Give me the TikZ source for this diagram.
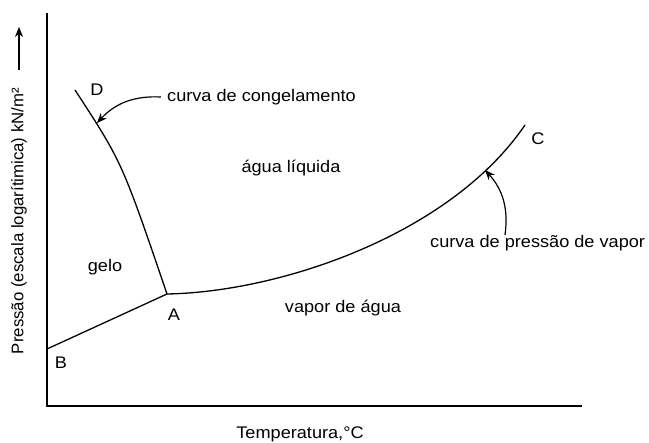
\documentclass[tikz,border=0pt]{standalone}
\usepackage{fontspec}
\setmainfont[FakeStretch=1.08]{Liberation Sans}
\newfontfamily\ylabelfont{Liberation Sans}
\usepackage{tikz}
\usetikzlibrary{arrows.meta, positioning}
\tikzstyle{axis} = [line width=1.5pt]
\tikzstyle{phaseline} = [line width=1.3pt]
\tikzstyle{label} = [inner sep=0pt, text centered, draw=none, fill=none]
\tikzstyle{arrow} = [line width=1.2pt, -{Stealth[length=10pt, width=8pt]}]

\begin{document}
\begin{tikzpicture}[x=1pt, y=-1pt, font=\fontsize{16.8}{20}\selectfont]
        \useasboundingbox (0,0) rectangle (649,443);
        % Axes
        \coordinate (O) at (47,406);
        \coordinate (Ytop) at (47,13);
        \coordinate (Xend) at (582,406);
        \draw [axis] (Ytop) -- (O) -- (Xend);
        % Phase boundaries
        \coordinate (B) at (47,349);
        \coordinate (A) at (167,294);
        \coordinate (D) at (75,90);
        \coordinate (C) at (525,125);
        \draw [phaseline] (B) -- (A);
        \draw [phaseline] (D) .. controls (122,162) .. (A);
        \draw [phaseline] (A) .. controls (280,292) and (450,235) .. (C);
        % Point labels
        \node (lD) [label] at (97,90) {D};
        \node (lC) [label] at (538,139) {C};
        \node (lA) [label] at (174,315) {A};
        \node (lB) [label] at (61,363) {B};
        % Regions
        \node (ice) [label] at (105,267) {gelo};
        \node (liquid) [label] at (291,168) {água líquida};
        \node (vapour) [label] at (343,308) {vapor de água};
        % Curve names with pointers
        \node (freeze) [label, anchor=west] at (167,97) {curva de congelamento};
        \node (boil) [label, anchor=west] at (430,243) {curva de pressão de vapor};
        \coordinate (freezetip) at (97,123);
        \coordinate (boiltail) at (505,235);
        \coordinate (boiltip) at (485,170);
        \draw [arrow] ([xshift=-6pt]freeze.west) to[bend right=25] (freezetip);
        \draw [arrow] (boiltail) to[bend right=25] (boiltip);
        % Axis titles
        \node (xtitle) [label] at (300,434) {Temperatura,°C};
        \node (ytitle) [label, rotate=90] at (19,221) {\ylabelfont Pressão (escala logarítimica) kN/m²};
        \coordinate (ytail) at (19,70);
        \coordinate (yhead) at (19,27);
        \draw [arrow] (ytail) -- (yhead);
    \end{tikzpicture}
\end{document}
